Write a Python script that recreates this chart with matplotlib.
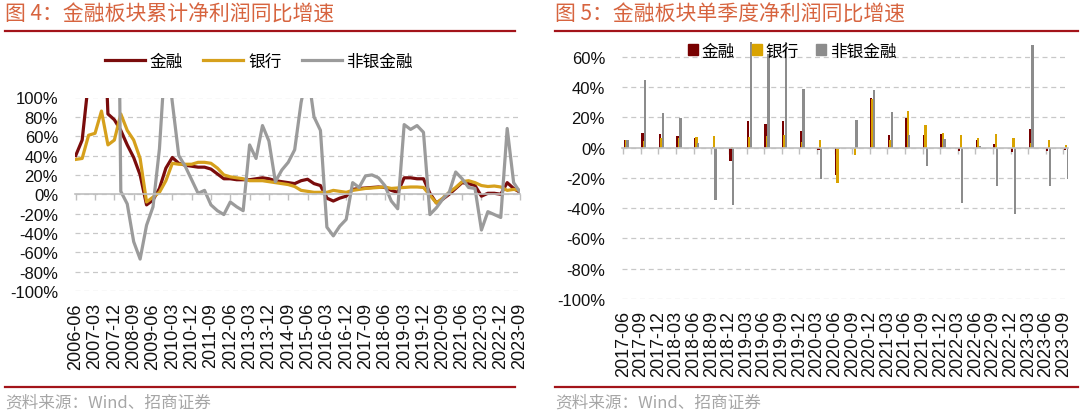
import matplotlib
matplotlib.use('Agg')
import matplotlib.pyplot as plt
from matplotlib.lines import Line2D
from matplotlib.patches import Patch
import numpy as np

plt.rcParams['font.family'] = ['Liberation Sans', 'Noto Sans CJK SC', 'DejaVu Sans']

# ===== data =====
# cumulative net profit yoy, quarterly 2006-06 .. 2023-09 (%)
all_quarters = [f'{y}-{m:02d}' for y in range(2006, 2024) for m in (3, 6, 9, 12)]
cum_quarters = all_quarters[all_quarters.index('2006-06'):all_quarters.index('2023-09') + 1]

fin_cum = [40, 56, 118, 200, 250, 83, 77, 66, 51, 38,
           20, -11, -6, 6, 27, 38, 32, 30, 29, 28,
           28, 26, 21, 16, 16, 15, 15, 15, 16, 17,
           16, 14, 13, 12, 11, 14, 15.5, 11, 9, -4,
           -7, -4, -2, 5, 6, 6.5, 7, 7.5, 7, 4,
           2, 17, 17, 16, 16, 1, -9, -5, 0, 6,
           12, 11, 9, -2, 1, 1, 0, 12, 6, 2]
bank_cum = [36, 37, 61, 63, 86, 51, 56, 83, 66, 56,
            37, -8, -3, 2, 14, 32, 31, 31, 31, 33,
            33, 32, 27, 20, 18, 17, 16, 14, 14, 14,
            13, 12, 11, 10, 8, 4, 3, 2, 2, 2,
            4, 3, 2, 4, 5, 6, 6.5, 7, 7.5, 6,
            6.5, 7, 7.5, 7.5, 7, -1, -9, -4, 2, 7,
            13, 14, 12, 9, 8, 8.5, 7.5, 4, 5, 4]
nonbank_cum = [300, 450, 600, 700, 650, 620, 600, 3, -10, -49,
               -67, -32, -13, 47, 153, 95, 40, 29, 15, 1,
               4, -11, -17, -21, -8, -13, -17, 51, 37, 71,
               55, 13, 25, 33, 46, 95, 128, 80, 66, -34,
               -43, -33, -26, 12, 7, 19, 20, 17, 9, -7,
               -15, 72, 67, 71, 64, -21, -14, -5, 2, 23,
               16, 7, 6, -37, -18, -21, -24, 68, 12, 2]

# single-quarter net profit yoy, 2017-06 .. 2023-09 (%)
q_quarters = all_quarters[all_quarters.index('2017-06'):all_quarters.index('2023-09') + 1]
fin_q = [5, 10, 9.3, 7.7, 6.6, 0.5, -8.8, 17.9, 15.9, 17.4, 11, -1.3, -18.3,
         -0.5, 33, 8.6, 19.9, 8.6, 9, -2.2, 5, 2.4, -2.9, 12.6, -2, -1.8]
bank_q = [5, 4.4, 6.6, 6.4, 7.3, 8, 0.3, 7.3, 7.7, 8.6, 4, 5, -23.4,
          -5, 32.4, 5.3, 24, 14.8, 9.7, 8.2, 6.4, 9, 6.4, 3.3, 5.3, 1.8]
nonbank_q = [5, 44.5, 23, 19.6, 2.9, -34.4, -38, 85, 62, 90, 39, -21, -1,
             18, 38.4, 23.6, 8.2, -12, 5.5, -36.4, 1, -25.6, -43.7, 68, -25.4, -21]

names = ['金融', '银行', '非银金融']
line_colors = ['#7A0C0C', '#D6A01C', '#9B9B9B']
bar_colors = ['#780000', '#D9A300', '#8C8C8C']
title_color = '#D7643F'
rule_color = '#A3141A'
grid_color = '#C8C8C8'
cjk = ['Noto Sans CJK SC', 'DejaVu Sans']

W, H = 1080, 414
fig = plt.figure(figsize=(W / 100, H / 100), dpi=100)


def fx(px):
    return px / W


def fy(py):
    return 1 - py / H


def style_axes(ax, yticks, positions, labels, ypad):
    for s in ['left', 'right', 'top']:
        ax.spines[s].set_visible(False)
    ax.spines['bottom'].set_position(('data', 0))
    ax.spines['bottom'].set_color('#BFBFBF')
    ax.spines['bottom'].set_linewidth(1.2)
    ax.set_yticks(yticks)
    ax.set_yticklabels([f'{v}%' for v in yticks])
    ax.tick_params(axis='y', length=0, pad=ypad, labelsize=12, labelcolor='#111111')
    ax.yaxis.grid(True, linestyle=(0, (4, 3)), color=grid_color, linewidth=0.9)
    ax.set_axisbelow(True)
    ax.set_xticks(positions)
    ax.tick_params(axis='x', labelbottom=False, length=4, width=1, color='#BFBFBF', direction='out')
    # labels sit at the bottom of the plot, tick marks stay on the zero line
    sec = ax.secondary_xaxis('bottom')
    sec.set_xticks(positions, labels=labels)
    sec.tick_params(length=0, pad=8, labelsize=13, labelrotation=90, labelcolor='#111111')
    sec.spines['bottom'].set_visible(False)


# ===== left: cumulative =====
ax1 = fig.add_axes([fx(75.4), fy(292), fx(445), (292 - 98.5) / H])
x1 = np.arange(len(cum_quarters))
for vals, c, n in zip([fin_cum, bank_cum, nonbank_cum], line_colors, names):
    ax1.plot(x1, vals, color=c, linewidth=2.3, label=n, solid_joinstyle='round')
ax1.set_xlim(-0.05, len(cum_quarters) - 0.95)
ax1.set_ylim(-100, 100)
pos1 = list(range(0, len(cum_quarters), 3))
style_axes(ax1, list(range(-100, 101, 20)), pos1, [cum_quarters[i] for i in pos1], 12.5)

fig.legend(handles=[Line2D([], [], color=c, lw=2.3) for c in line_colors], labels=names,
           loc='center', bbox_to_anchor=(fx(259), fy(62)), ncol=3, frameon=False,
           prop={'family': cjk, 'size': 12}, handlelength=2.4, handletextpad=0.3,
           columnspacing=1.2)

# ===== right: single quarter =====
ax2 = fig.add_axes([fx(621.7), fy(300), fx(446.6), (300 - 42.7) / H])
x2 = np.arange(len(q_quarters))
bw = 0.13
for vals, c, off, n in zip([fin_q, bank_q, nonbank_q], bar_colors, [0.085, 0.165, 0.245], names):
    ax2.bar(x2 + off, vals, width=bw, color=c, label=n, linewidth=0)
ax2.set_xlim(-0.09, len(q_quarters) - 1 + 0.28)
ax2.set_ylim(-100, 70)
style_axes(ax2, list(range(-100, 61, 20)), list(x2), q_quarters, 12)

fig.legend(handles=[Patch(color=c) for c in bar_colors], labels=names,
           loc='center', bbox_to_anchor=(fx(792), fy(52)), ncol=3, frameon=False,
           prop={'family': cjk, 'size': 12}, handlelength=0.6, handleheight=0.6,
           handletextpad=0.25, columnspacing=1.0)

# ===== titles, rules, source =====
for x0, x1_, title in [(5, 515, '图 4：金融板块累计净利润同比增速'),
                       (555, 1078, '图 5：金融板块单季度净利润同比增速')]:
    fig.text(fx(x0), fy(15), title, fontsize=15, color=title_color, va='center', ha='left', family=cjk)
    fig.add_artist(Line2D([fx(x0), fx(x1_)], [fy(31.7), fy(31.7)], color=rule_color, lw=1.6))
    fig.add_artist(Line2D([fx(x0), fx(x1_)], [fy(388), fy(388)], color=rule_color, lw=1.6))
    fig.text(fx(x0), fy(403), '资料来源：Wind、招商证券', fontsize=12, color='#A6A6A6',
             va='center', ha='left', family=cjk)

fig.savefig('out.png', dpi=100)
